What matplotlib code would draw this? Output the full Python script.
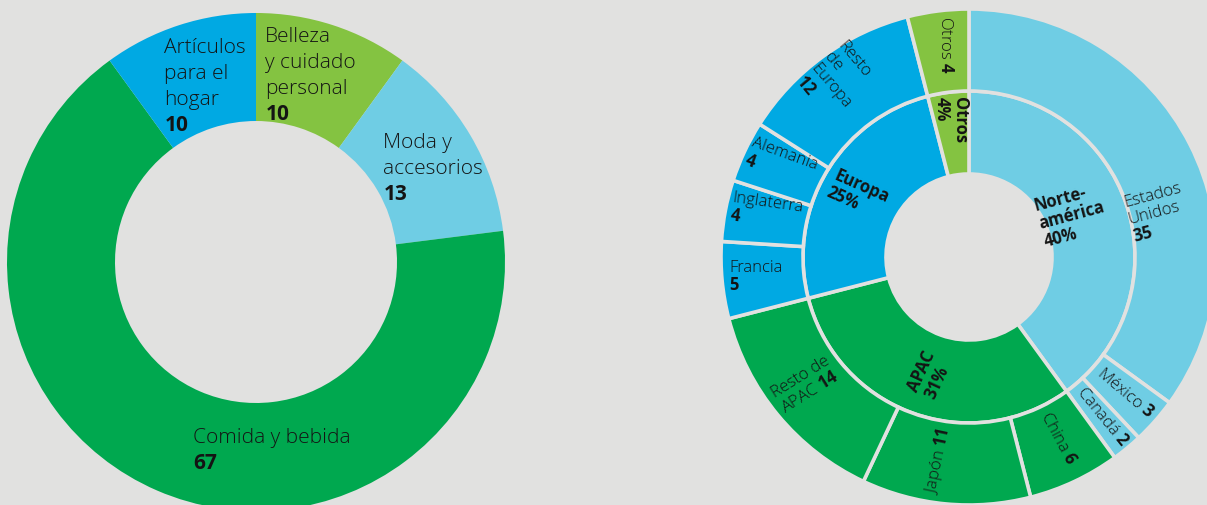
#!/usr/bin/env python3
"""Donut de categorias y sunburst de regiones/paises."""

import matplotlib
matplotlib.use("Agg")
import matplotlib.pyplot as plt

# datos
cat_labels = ["Belleza\ny cuidado\npersonal", "Moda y\naccesorios",
              "Comida y bebida", "Artículos\npara el\nhogar"]
cat_values = [10, 13, 67, 10]

region_labels = ["Norte-\namérica", "APAC", "Europa", "Otros"]
region_values = [40, 31, 25, 4]

country_labels = ["Estados\nUnidos", "México", "Canadá", "China", "Japón",
                  "Resto de\nAPAC", "Francia", "Inglaterra", "Alemania",
                  "Resto\nde\nEuropa", "Otros"]
country_values = [35, 3, 2, 6, 11, 14, 5, 4, 4, 12, 4]
# separador entre nombre y numero ("\n" = numero en la linea siguiente)
country_sep = ["\n", " ", " ", " ", " ", " ", "\n", "\n", "\n", "\n", " "]

# estilo
BG = "#e1e1e0"
DGREEN = "#00a84f"
LGREEN = "#84c341"
BLUE = "#00a9e3"
LBLUE = "#6fcde4"
INK = "#141414"
W, H = 1207, 506

cat_colors = [LGREEN, LBLUE, DGREEN, BLUE]
region_colors = [LBLUE, DGREEN, BLUE, LGREEN]
country_colors = [LBLUE] * 3 + [DGREEN] * 3 + [BLUE] * 4 + [LGREEN]

plt.rcParams["font.family"] = ["Open Sans", "DejaVu Sans"]
plt.rcParams["mathtext.fontset"] = "custom"
plt.rcParams["mathtext.rm"] = "Open Sans"
plt.rcParams["mathtext.bf"] = "Open Sans:bold"

fig = plt.figure(figsize=(W / 100, H / 100), dpi=100, facecolor=BG)
ax = fig.add_axes([0, 0, 1, 1])
ax.set_facecolor(BG)

# --- donut izquierdo ---
left_c = (256, H - 263)
ax.pie(cat_values, colors=cat_colors, startangle=90, counterclock=False,
       radius=249, center=left_c, wedgeprops=dict(width=249 - 141, linewidth=0),
       frame=True)

# posiciones en pixeles de la imagen (x izq., y centro del bloque)
cat_pos = [(265, 76), (383, 169), (193, 451), (164, 87)]
for lab, val, (x, y) in zip(cat_labels, cat_values, cat_pos):
    ax.text(x, H - y, lab + "\n" + r"$\mathbf{%d}$" % val, ha="left", va="center",
            fontsize=15, fontweight="light", color=INK, linespacing=1.42)

# --- sunburst derecho ---
right_c = (969, H - 258)
edge = dict(edgecolor=BG, linewidth=2.6)
ax.pie(region_values, colors=region_colors, startangle=90, counterclock=False,
       radius=166, center=right_c, wedgeprops=dict(width=166 - 83, **edge),
       frame=True)
ax.pie(country_values, colors=country_colors, startangle=90, counterclock=False,
       radius=248, center=right_c, wedgeprops=dict(width=248 - 166, **edge),
       frame=True)

# (x, y, rotacion) centro de cada bloque de texto
country_pos = [(1157, 213, 15), (1125, 393, -40), (1103, 417, -51),
               (1058, 438, -62), (938, 461, 78), (806, 385, 32),
               (756, 277, 0), (767, 212, -8), (781, 163, -20),
               (837, 81, -50), (945, 45, -90)]
for lab, val, sep, (x, y, rot) in zip(country_labels, country_values,
                                      country_sep, country_pos):
    ax.text(x, H - y, lab + sep + r"$\mathbf{%d}$" % val, ha="center",
            va="center", ma="left", rotation=rot, rotation_mode="anchor",
            fontsize=12, fontweight="light", color=INK, linespacing=1.15)

region_pos = [(1072, 215, 15), (930, 375, 65), (858, 195, -24), (951, 120, -90)]
for lab, val, (x, y, rot) in zip(region_labels, region_values, region_pos):
    ax.text(x, H - y, "%s\n%d%%" % (lab, val), ha="center", va="center",
            ma="left", rotation=rot, rotation_mode="anchor", fontsize=12,
            fontweight="bold", color=INK, linespacing=1.05)

ax.set_xlim(0, W)
ax.set_ylim(0, H)
ax.set_aspect("equal")
ax.axis("off")

fig.savefig("out.png", dpi=100, facecolor=BG)
